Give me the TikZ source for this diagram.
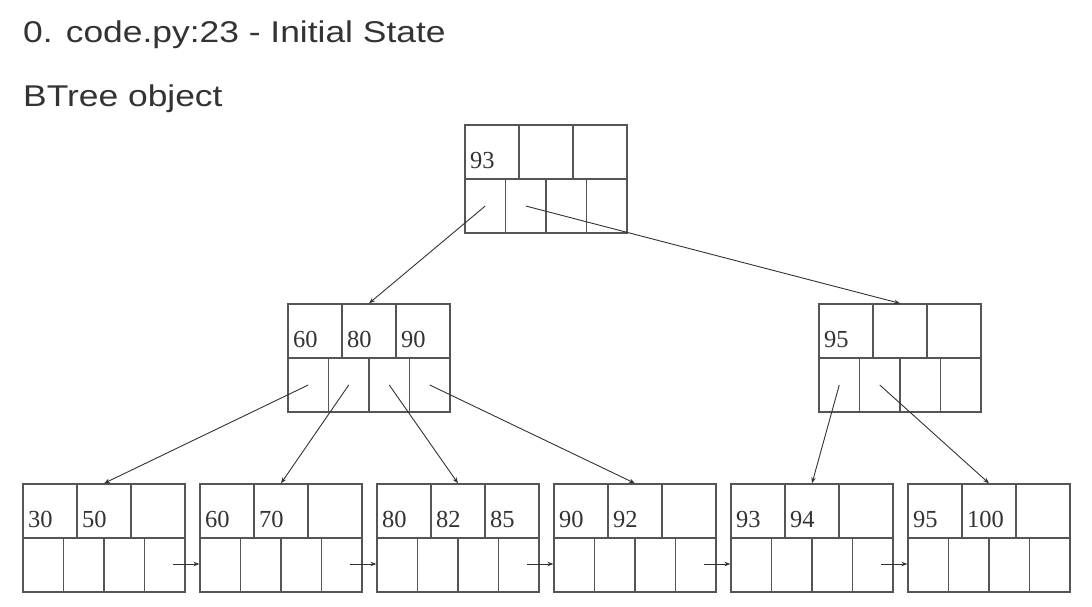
\documentclass[tikz,border=0pt]{standalone}
\usepackage{fontspec}
\usetikzlibrary{arrows.meta}
\newfontfamily\titlefont[FakeStretch=1.18]{Liberation Sans}
\newfontfamily\keyfont{Liberation Serif}
\definecolor{ink}{HTML}{333333}
\definecolor{boxline}{HTML}{555555}
\tikzset{
  btbox/.style={draw=boxline, line width=1.3pt, minimum width=162pt, minimum height=108pt, inner sep=0pt},
  btline/.style={draw=boxline, line width=1.3pt},
  btkey/.style={anchor=base west, inner sep=0pt, text=ink, font=\keyfont\fontsize{24.5}{26}\selectfont},
  title/.style={anchor=base west, inner sep=0pt, text=ink, font=\titlefont\fontsize{30}{32}\selectfont},
  ptr/.style={draw=ink, line width=0.9pt, -{Stealth[length=6pt,width=4.5pt]}},
}
% #1 name, #2 left x, #3 top y, #4-#6 keys
\newcommand\btnode[6]{%
  \node[btbox] (#1) at (#2+81,#3+54) {};
  \draw[btline] (#2,#3+54) -- (#2+162,#3+54);
  \draw[btline] (#2+54,#3) -- (#2+54,#3+54);
  \draw[btline] (#2+108,#3) -- (#2+108,#3+54);
  \draw[btline] (#2+40.5,#3+54) -- (#2+40.5,#3+108);
  \draw[btline] (#2+81,#3+54) -- (#2+81,#3+108);
  \draw[btline] (#2+121.5,#3+54) -- (#2+121.5,#3+108);
  \coordinate (#1-p1) at (#2+20.25,#3+81);
  \coordinate (#1-p2) at (#2+60.75,#3+81);
  \coordinate (#1-p3) at (#2+101.25,#3+81);
  \coordinate (#1-p4) at (#2+141.75,#3+81);
  \coordinate (#1-link) at (#2+150,#3+80);
  \node[btkey] (#1-k1) at (#2+5,#3+43) {#4};
  \node[btkey] (#1-k2) at (#2+59,#3+43) {#5};
  \node[btkey] (#1-k3) at (#2+113,#3+43) {#6};
}
\begin{document}
\begin{tikzpicture}[x=1pt,y=-1pt]
\useasboundingbox[fill=white] (0,0) rectangle (1092,607);
\node[title] (t1) at (23,43) {0. code.py:23 - Initial State};
\node[title] (t2) at (23,107) {BTree object};

\btnode{root}{465}{125}{93}{}{}
\btnode{ma}{288}{304}{60}{80}{90}
\btnode{mb}{819}{304}{95}{}{}
\btnode{l1}{23}{484}{30}{50}{}
\btnode{l2}{200}{484}{60}{70}{}
\btnode{l3}{377}{484}{80}{82}{85}
\btnode{l4}{554}{484}{90}{92}{}
\btnode{l5}{731}{484}{93}{94}{}
\btnode{l6}{908}{484}{95}{100}{}

\draw[ptr] (root-p1) -- (ma.north);
\draw[ptr] (root-p2) -- (mb.north);
\draw[ptr] (ma-p1) -- (l1.north);
\draw[ptr] (ma-p2) -- (l2.north);
\draw[ptr] (ma-p3) -- (l3.north);
\draw[ptr] (ma-p4) -- (l4.north);
\draw[ptr] (mb-p1) -- (l5.north);
\draw[ptr] (mb-p2) -- (l6.north);

\draw[ptr] (l1-link) -- (l2.west |- l1-link);
\draw[ptr] (l2-link) -- (l3.west |- l2-link);
\draw[ptr] (l3-link) -- (l4.west |- l3-link);
\draw[ptr] (l4-link) -- (l5.west |- l4-link);
\draw[ptr] (l5-link) -- (l6.west |- l5-link);
\end{tikzpicture}
\end{document}
